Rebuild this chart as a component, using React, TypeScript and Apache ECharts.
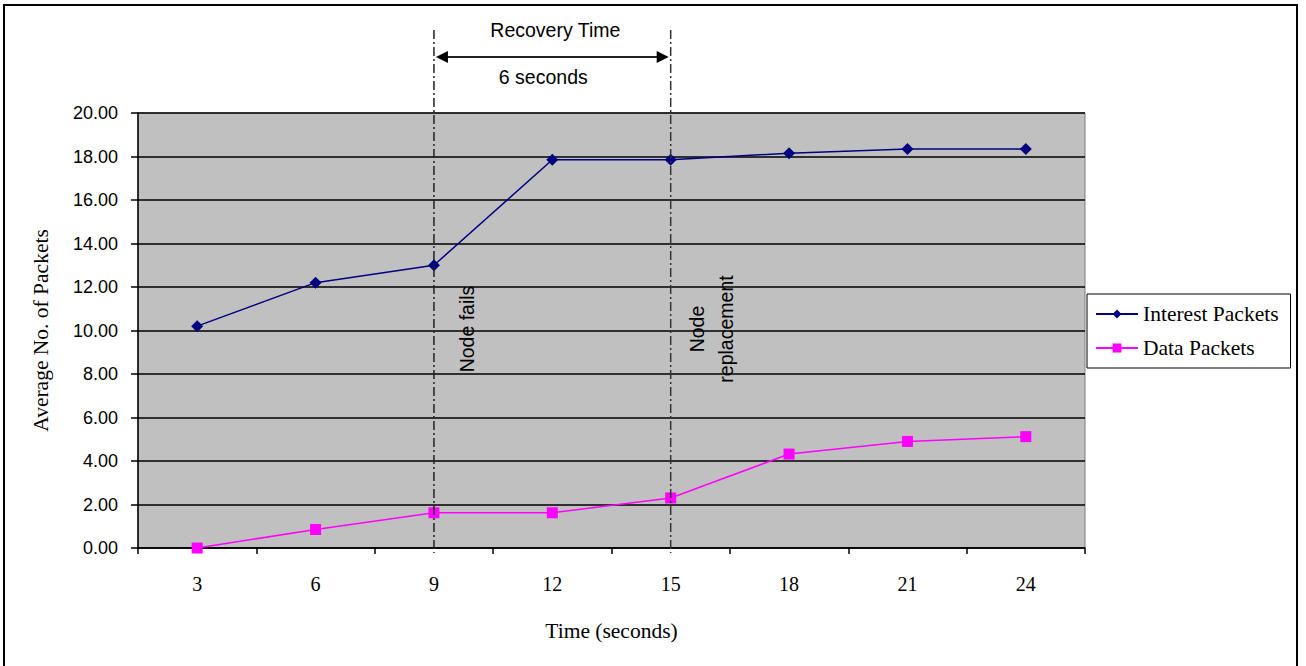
import React, { useEffect, useRef } from "react";
import * as echarts from "echarts";

const categories = ["3", "6", "9", "12", "15", "18", "21", "24"];
const interestPackets = [10.2, 12.2, 13.0, 17.85, 17.85, 18.15, 18.35, 18.35];
const dataPackets = [0.0, 0.85, 1.62, 1.62, 2.3, 4.32, 4.9, 5.12];
const yTicks = { min: 0, max: 20, interval: 2 };
const failCategory = "9";
const replaceCategory = "15";

const SERIF = "'Liberation Serif', 'Times New Roman', serif";
const SANS = "'Liberation Sans', Arial, sans-serif";

export default function App() {
  const ref = useRef<HTMLDivElement>(null);

  useEffect(() => {
    if (!ref.current) return;
    const chart = echarts.init(ref.current, undefined, { renderer: "svg" });
    chart.setOption({
      animation: false,
      backgroundColor: "#ffffff",
      grid: {
        left: 138,
        right: 221,
        top: 113,
        bottom: 118,
        show: true,
        backgroundColor: "#c0c0c0",
        borderColor: "#808080",
        borderWidth: 1,
      },
      legend: {
        orient: "vertical",
        left: 1087,
        top: 294,
        backgroundColor: "#ffffff",
        borderColor: "#000000",
        borderWidth: 1,
        padding: [9, 12, 9, 8],
        itemGap: 12,
        itemWidth: 42,
        itemHeight: 11,
        textStyle: { fontFamily: SERIF, fontSize: 21.5, color: "#000" },
        data: ["Interest Packets", "Data Packets"],
      },
      xAxis: {
        type: "category",
        data: categories,
        boundaryGap: true,
        name: "Time (seconds)",
        nameLocation: "middle",
        nameGap: 72,
        nameTextStyle: { fontFamily: SERIF, fontSize: 21.5, color: "#000" },
        axisLine: { lineStyle: { color: "#000", width: 1.5 } },
        axisTick: { show: true, length: 6, lineStyle: { color: "#000", width: 1.5 } },
        axisLabel: { fontFamily: SERIF, fontSize: 20, color: "#000", margin: 26 },
        splitLine: { show: false },
      },
      yAxis: {
        type: "value",
        min: yTicks.min,
        max: yTicks.max,
        interval: yTicks.interval,
        name: "Average No. of Packets",
        nameLocation: "middle",
        nameGap: 86,
        nameRotate: 90,
        nameTextStyle: { fontFamily: SERIF, fontSize: 21.5, color: "#000" },
        axisLine: { show: true, lineStyle: { color: "#000", width: 1.5 } },
        axisTick: { show: true, length: 7, lineStyle: { color: "#000", width: 1.5 } },
        axisLabel: {
          fontFamily: SANS,
          fontSize: 18,
          color: "#000",
          margin: 20,
          formatter: (v: number) => v.toFixed(2),
        },
        splitLine: { show: true, lineStyle: { color: "#000", width: 1.6 } },
      },
      series: [
        {
          name: "Interest Packets",
          type: "line",
          data: interestPackets,
          symbol: "diamond",
          symbolSize: 12,
          color: "#000080",
          lineStyle: { color: "#000080", width: 1.5 },
          itemStyle: { color: "#000080" },
          z: 5,
        },
        {
          name: "Data Packets",
          type: "line",
          data: dataPackets,
          symbol: "rect",
          symbolSize: 11,
          color: "#ff00ff",
          lineStyle: { color: "#ff00ff", width: 1.5 },
          itemStyle: { color: "#ff00ff" },
          z: 5,
        },
      ],
    });

    const x9 = chart.convertToPixel({ xAxisIndex: 0 }, failCategory) as number;
    const x15 = chart.convertToPixel({ xAxisIndex: 0 }, replaceCategory) as number;
    const y0 = chart.convertToPixel({ yAxisIndex: 0 }, 0) as number;
    const mid = (x9 + x15) / 2;
    const arrowY = 57;
    const dash = [9, 3, 2, 3];
    const annFont = `19.5px ${SANS}`;

    chart.setOption({
      graphic: [
        {
          type: "rect",
          shape: { x: 4, y: 5, width: 1293, height: 720 },
          style: { fill: "none", stroke: "#000", lineWidth: 2 },
          silent: true,
          z: 100,
        },
        {
          type: "line",
          shape: { x1: x9, y1: 30, x2: x9, y2: y0 + 5 },
          style: { stroke: "#222", lineWidth: 1.5, lineDash: dash },
          z: 50,
        },
        {
          type: "line",
          shape: { x1: x15, y1: 30, x2: x15, y2: y0 + 5 },
          style: { stroke: "#333", lineWidth: 1.5, lineDash: dash },
          z: 50,
        },
        {
          type: "line",
          shape: { x1: x9 + 10, y1: arrowY, x2: x15 - 10, y2: arrowY },
          style: { stroke: "#222", lineWidth: 2 },
          z: 50,
        },
        {
          type: "polygon",
          shape: { points: [[x9 + 2, arrowY], [x9 + 14, arrowY - 6], [x9 + 14, arrowY + 6]] },
          style: { fill: "#000" },
          z: 50,
        },
        {
          type: "polygon",
          shape: { points: [[x15 - 2, arrowY], [x15 - 14, arrowY - 6], [x15 - 14, arrowY + 6]] },
          style: { fill: "#000" },
          z: 50,
        },
        {
          type: "text",
          x: mid + 3,
          y: 30,
          style: {
            text: "Recovery Time",
            font: annFont,
            fill: "#000",
            align: "center",
            verticalAlign: "middle",
            textAlign: "center",
            textVerticalAlign: "middle",
          },
          z: 60,
        },
        {
          type: "text",
          x: mid - 9,
          y: 77,
          style: {
            text: "6 seconds",
            font: annFont,
            fill: "#000",
            align: "center",
            verticalAlign: "middle",
            textAlign: "center",
            textVerticalAlign: "middle",
          },
          z: 60,
        },
        {
          type: "text",
          x: x9 + 33,
          y: 329,
          rotation: Math.PI / 2,
          style: {
            text: "Node fails",
            font: annFont,
            fill: "#000",
            align: "center",
            verticalAlign: "middle",
            textAlign: "center",
            textVerticalAlign: "middle",
          },
          z: 60,
        },
        {
          type: "text",
          x: x15 + 41,
          y: 329,
          rotation: Math.PI / 2,
          style: {
            text: "Node\nreplacement",
            font: annFont,
            fill: "#000",
            lineHeight: 29,
            align: "center",
            verticalAlign: "middle",
            textAlign: "center",
            textVerticalAlign: "middle",
          },
          z: 60,
        },
      ],
    });

    return () => chart.dispose();
  }, []);

  return (
    <div
      ref={ref}
      style={{ position: "fixed", left: 0, top: 0, width: 1306, height: 666, background: "#fff" }}
    />
  );
}
